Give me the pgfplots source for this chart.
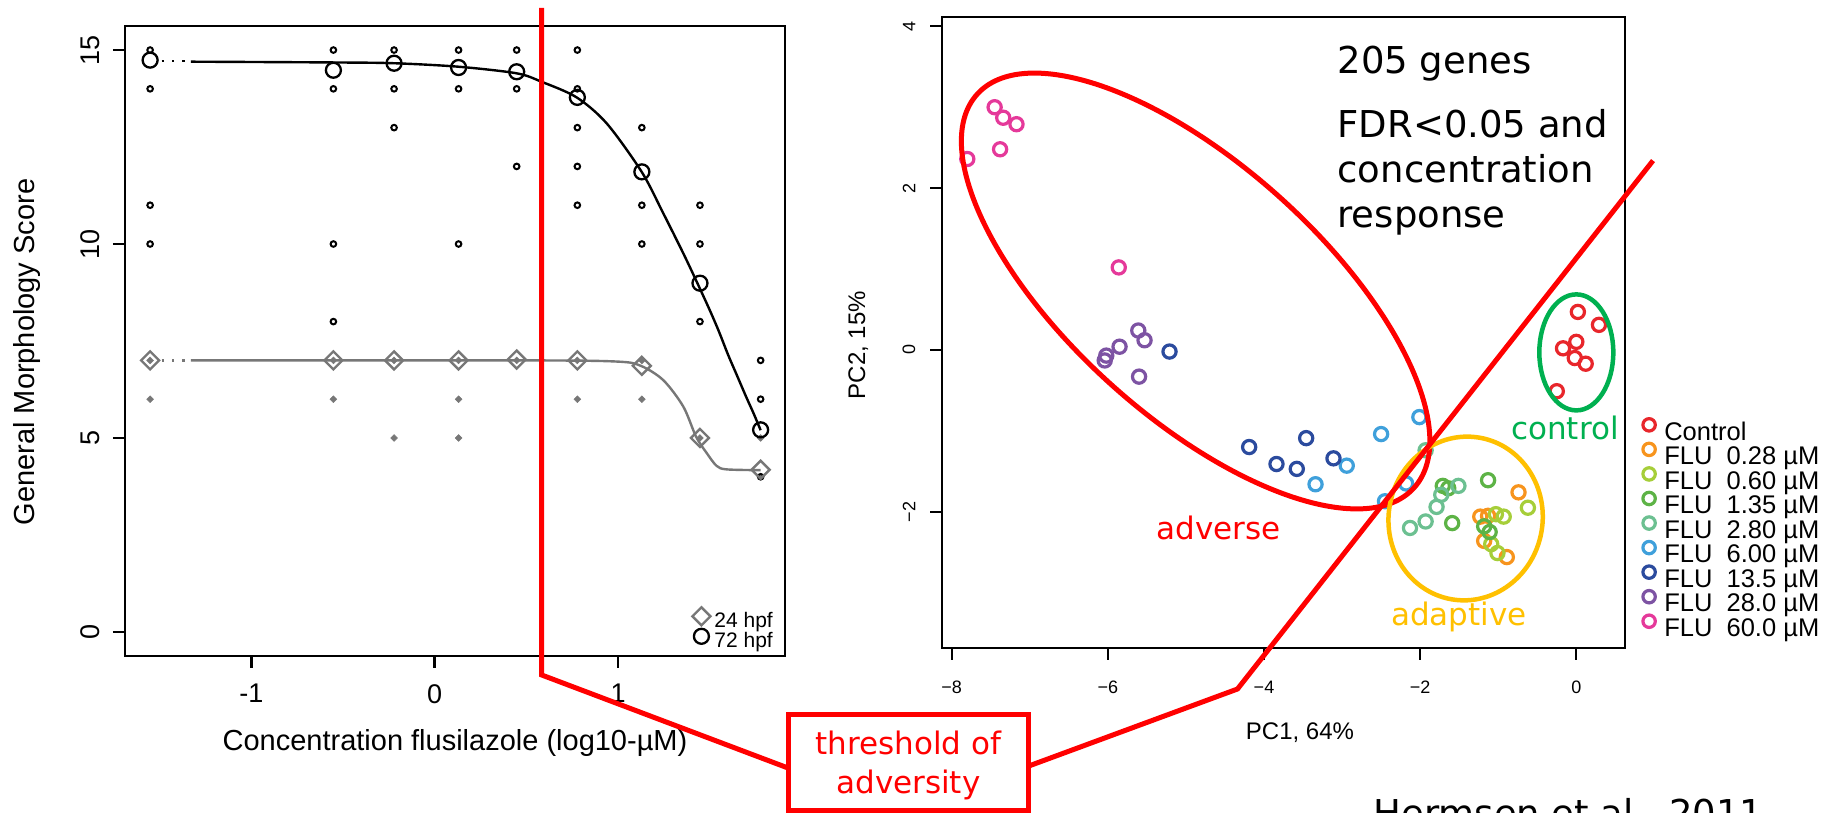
\documentclass[border=0pt]{standalone}
\usepackage{fontspec}
\setmainfont{Liberation Sans}
\newfontfamily\dejavu{DejaVu Sans}
\usepackage{pgfplots}
\usepackage{pgfplotstable}
\pgfplotsset{compat=1.18}

\definecolor{cCtrl}{HTML}{E8262B}
\definecolor{cA}{HTML}{F7941D}
\definecolor{cB}{HTML}{A6CE39}
\definecolor{cC}{HTML}{5DB346}
\definecolor{cD}{HTML}{6CC091}
\definecolor{cE}{HTML}{3FA0DB}
\definecolor{cF}{HTML}{2B4B9E}
\definecolor{cG}{HTML}{7D53A3}
\definecolor{cH}{HTML}{E5399A}
\definecolor{aRed}{HTML}{FF0000}
\definecolor{aGreen}{HTML}{00B050}
\definecolor{aYellow}{HTML}{FFC000}
\definecolor{gry}{HTML}{777777}

\pgfdeclareplotmark{rdiamond}{%
  \pgfpathmoveto{\pgfqpoint{\pgfplotmarksize}{0pt}}%
  \pgfpathlineto{\pgfqpoint{0pt}{\pgfplotmarksize}}%
  \pgfpathlineto{\pgfqpoint{-\pgfplotmarksize}{0pt}}%
  \pgfpathlineto{\pgfqpoint{0pt}{-\pgfplotmarksize}}%
  \pgfpathclose\pgfusepathqstroke}
\pgfdeclareplotmark{rdiamond*}{%
  \pgfpathmoveto{\pgfqpoint{\pgfplotmarksize}{0pt}}%
  \pgfpathlineto{\pgfqpoint{0pt}{\pgfplotmarksize}}%
  \pgfpathlineto{\pgfqpoint{-\pgfplotmarksize}{0pt}}%
  \pgfpathlineto{\pgfqpoint{0pt}{-\pgfplotmarksize}}%
  \pgfpathclose\pgfusepathqfillstroke}

% ---------- left panel data ----------
\pgfplotstableread{
x y
-1.553 15
-1.553 14
-1.553 11
-1.553 10
-0.553 15
-0.553 14
-0.553 10
-0.553 8
-0.222 15
-0.222 14
-0.222 13
0.130 15
0.130 14
0.130 10
0.447 15
0.447 14
0.447 12
0.778 15
0.778 14
0.778 13
0.778 12
0.778 11
1.130 13
1.130 11
1.130 10
1.447 11
1.447 10
1.447 8
1.778 7
1.778 6
1.778 4
}\indB
\pgfplotstableread{
x y
-1.553 7
-1.553 6
-0.553 7
-0.553 6
-0.222 7
-0.222 5
0.130 7
0.130 6
0.130 5
0.447 7
0.778 7
0.778 6
1.130 7
1.130 6
1.447 5
1.778 5
1.778 4
}\indG
\pgfplotstableread{
x y
-1.553 14.74
-0.553 14.48
-0.222 14.66
0.130 14.55
0.447 14.44
0.778 13.78
1.130 11.86
1.447 8.99
1.778 5.21
}\meanB
\pgfplotstableread{
x y
-1.553 7.00
-0.553 7.00
-0.222 7.00
0.130 7.00
0.447 7.02
0.778 7.00
1.130 6.86
1.447 5.00
1.778 4.18
}\meanG
\pgfplotstableread{
x y
-1.33 14.70
-0.553 14.68
-0.222 14.66
0.130 14.57
0.447 14.40
0.584 14.18
0.774 13.78
0.938 13.11
1.129 11.86
1.247 10.79
1.356 9.76
1.433 8.99
1.500 8.30
1.550 7.75
1.600 7.15
1.650 6.60
1.700 6.05
1.740 5.63
1.778 5.20
}\curveB
\pgfplotstableread{
x y
-1.33 7.00
0.50 7.00
0.993 6.97
1.124 6.86
1.247 6.49
1.356 5.81
1.426 5.03
1.484 4.61
1.538 4.28
1.593 4.19
1.778 4.17
}\curveG

% ---------- right panel data ----------
\pgfplotstableread{
x y
0.02 0.47
0.29 0.31
-0.17 0.02
0.00 0.10
-0.02 -0.10
0.12 -0.17
-0.25 -0.51
}\pCtrl
\pgfplotstableread{
x y
-0.74 -1.76
-1.23 -2.06
-1.13 -2.05
-1.18 -2.36
-0.89 -2.56
}\pA
\pgfplotstableread{
x y
-1.03 -2.03
-0.93 -2.06
-0.62 -1.95
-1.09 -2.40
-1.01 -2.51
}\pB
\pgfplotstableread{
x y
-1.71 -1.68
-1.64 -1.71
-1.13 -1.61
-1.59 -2.14
-1.18 -2.18
-1.11 -2.25
}\pC
\pgfplotstableread{
x y
-1.51 -1.68
-1.73 -1.79
-1.79 -1.94
-1.93 -2.12
-2.13 -2.20
-1.93 -1.24
}\pD
\pgfplotstableread{
x y
-2.94 -1.43
-3.34 -1.66
-2.50 -1.04
-2.01 -0.83
-2.18 -1.65
-2.45 -1.87
}\pE
\pgfplotstableread{
x y
-5.21 -0.02
-4.19 -1.20
-3.84 -1.41
-3.58 -1.47
-3.46 -1.09
-3.11 -1.34
}\pF
\pgfplotstableread{
x y
-6.04 -0.13
-6.02 -0.07
-5.85 0.04
-5.61 0.24
-5.53 0.12
-5.60 -0.33
}\pG
\pgfplotstableread{
x y
-7.80 2.36
-7.45 3.00
-7.34 2.87
-7.17 2.79
-7.38 2.48
-5.86 1.02
}\pH

\pgfplotsset{
  pcs/.style={only marks, mark=o, mark size=6.6pt, color=#1,
    mark options={line width=3.2pt, draw=#1},
    legend image code/.code={\draw[##1, mark size=6.2pt] plot coordinates {(7.5pt,9pt)};}},
  lleg/.style={legend image code/.code={\draw[##1] plot coordinates {(9.5pt,7.5pt)};}},
}

\begin{document}
\begin{tikzpicture}
\path[use as bounding box] (0pt,0pt) rectangle (1827pt,813pt);

% ================= LEFT PANEL =================
\begin{axis}[
  at={(125pt,157pt)}, anchor=south west, scale only axis,
  width=660pt, height=630pt,
  xmin=-1.690, xmax=1.911, ymin=-0.62, ymax=15.62,
  axis line style={line width=2.6pt},
  xtick={-1,0,1}, xticklabels={-1,0,1},
  ytick={0,5,10,15}, yticklabels={0,5,10,15},
  xtick pos=left, ytick pos=left, tick align=outside,
  major tick length=12pt,
  every tick/.style={line width=2.6pt, black},
  ticklabel style={font=\fontsize{27}{27}\selectfont, inner sep=0pt},
  yticklabel style={rotate=90, anchor=south},
  xticklabel style={anchor=north},
  xticklabel shift=16pt, yticklabel shift=13pt,
  clip=false,
  legend style={at={(axis description cs:1,0)}, anchor=south east,
    xshift=-9pt, yshift=-1pt, draw=none, fill=none,
    font=\fontsize{21}{21}\selectfont, row sep=-6pt,
    nodes={inner sep=0pt, text height=15pt, text depth=7pt},
    /tikz/every odd column/.append style={column sep=4pt}},
  legend cell align=left,
]
\addplot[only marks, mark=rdiamond*, mark size=3.4pt, gry, fill=gry, line width=0.5pt, forget plot] table {\indG};
\addplot[only marks, mark=o, mark size=2.8pt, black, line width=2pt, forget plot] table {\indB};
\addplot[gry, line width=2.4pt, smooth, forget plot] table {\curveG};
\addplot[black, line width=2.4pt, smooth, forget plot] table {\curveB};
\addplot[gry, line width=2.4pt, dash pattern=on 2.4pt off 8pt, forget plot] coordinates {(-1.49,7.0) (-1.33,7.0)};
\addplot[black, line width=2.4pt, dash pattern=on 2.4pt off 8pt, forget plot] coordinates {(-1.49,14.72) (-1.33,14.72)};
\addplot[only marks, mark=rdiamond, mark size=9pt, gry, line width=2.4pt, lleg] table {\meanG};
\addlegendentry{24 hpf}
\addplot[only marks, mark=o, mark size=7.5pt, black, line width=2.3pt, lleg] table {\meanB};
\addlegendentry{72 hpf}
\end{axis}

\node[anchor=base, font=\fontsize{29}{29}\selectfont] at (455pt,62pt) {Concentration flusilazole (log10-µM)};
\node[rotate=90, anchor=base, font=\fontsize{29}{29}\selectfont] at (34pt,461pt) {General Morphology Score};

% ================= RIGHT PANEL =================
\begin{axis}[
  at={(942pt,165.3pt)}, anchor=south west, scale only axis,
  width=682.7pt, height=631.1pt,
  xmin=-8.124, xmax=0.62, ymin=-3.68, ymax=4.12,
  axis line style={line width=2pt},
  xtick={-8,-6,-4,-2,0}, xticklabels={−8,−6,−4,−2,0},
  ytick={-2,0,2,4}, yticklabels={−2,0,2,4},
  xtick pos=left, ytick pos=left, tick align=outside,
  major tick length=12pt,
  every tick/.style={line width=2pt, black},
  ticklabel style={font=\fontsize{18}{18}\selectfont, inner sep=0pt},
  yticklabel style={rotate=90, anchor=south},
  xticklabel style={anchor=north},
  xticklabel shift=21pt, yticklabel shift=14.5pt,
  clip=false,
  legend style={at={(axis description cs:1,0)}, anchor=south west,
    xshift=15pt, yshift=3pt, draw=none, fill=none,
    font=\fontsize{25.5}{25.5}\selectfont, row sep=-2.9pt,
    nodes={inner sep=0pt, text height=18.5pt, text depth=6pt},
    /tikz/every odd column/.append style={column sep=9pt}},
  legend cell align=left,
]
\addplot[pcs=cCtrl] table {\pCtrl}; \addlegendentry{Control}
\addplot[pcs=cA] table {\pA}; \addlegendentry{FLU\ \ 0.28 µM}
\addplot[pcs=cB] table {\pB}; \addlegendentry{FLU\ \ 0.60 µM}
\addplot[pcs=cC] table {\pC}; \addlegendentry{FLU\ \ 1.35 µM}
\addplot[pcs=cD] table {\pD}; \addlegendentry{FLU\ \ 2.80 µM}
\addplot[pcs=cE] table {\pE}; \addlegendentry{FLU\ \ 6.00 µM}
\addplot[pcs=cF] table {\pF}; \addlegendentry{FLU\ \ 13.5 µM}
\addplot[pcs=cG] table {\pG}; \addlegendentry{FLU\ \ 28.0 µM}
\addplot[pcs=cH] table {\pH}; \addlegendentry{FLU\ \ 60.0 µM}
\end{axis}

\node[anchor=base, font=\fontsize{24}{24}\selectfont] at (1300pt,73pt) {PC1, 64\%};
\node[rotate=90, anchor=base, font=\fontsize{24}{24}\selectfont] at (865pt,468pt) {PC2, 15\%};

% ================= ANNOTATIONS =================
\draw[aRed, line width=5pt, rotate around={-42:(1195.6pt,522pt)}] (1195.6pt,522pt) ellipse [x radius=294pt, y radius=126pt];
\draw[aGreen, line width=4.5pt] (1576.3pt,460.6pt) ellipse [x radius=37pt, y radius=58pt];
\draw[aYellow, line width=4.5pt, rotate around={-10:(1465.6pt,294.5pt)}] (1465.6pt,294.5pt) ellipse [x radius=77pt, y radius=82pt];

\draw[aRed, line width=5pt, line join=miter] (541.7pt,805pt) -- (541.7pt,138pt) -- (788pt,45pt);
\draw[aRed, line width=5pt, line join=miter] (1028.8pt,47pt) -- (1237.5pt,124pt) -- (1653pt,652.4pt);
\draw[aRed, line width=5pt, fill=white] (788pt,2.5pt) rectangle (1028.8pt,98pt);
\node[aRed, align=center, font=\dejavu\fontsize{31}{39}\selectfont] at (908.4pt,48pt) {threshold of\\adversity};

\node[aRed, font=\dejavu\fontsize{31}{31}\selectfont] at (1218.6pt,285.3pt) {adverse};
\node[aGreen, font=\dejavu\fontsize{31}{31}\selectfont] at (1565pt,385.5pt) {control};
\node[aYellow, font=\dejavu\fontsize{31}{31}\selectfont] at (1459pt,196.4pt) {adaptive};

\node[anchor=base west, font=\dejavu\fontsize{37}{37}\selectfont] at (1334pt,739.9pt) {205 genes};
\node[anchor=base west, font=\dejavu\fontsize{37}{37}\selectfont] at (1334pt,675.5pt) {FDR<0.05 and};
\node[anchor=base west, font=\dejavu\fontsize{37}{37}\selectfont] at (1334pt,630.5pt) {concentration};
\node[anchor=base west, font=\dejavu\fontsize{37}{37}\selectfont] at (1334pt,585.5pt) {response};
\node[anchor=base west, font=\dejavu\fontsize{37}{37}\selectfont] at (1370pt,-14pt) {Hermsen et al., 2011};
\end{tikzpicture}
\end{document}
